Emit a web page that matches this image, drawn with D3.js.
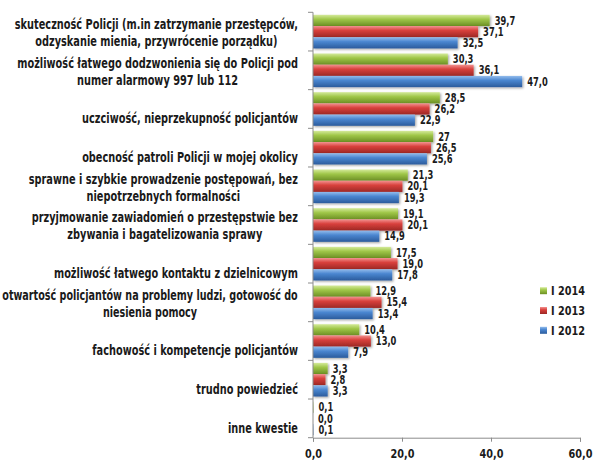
<!DOCTYPE html>
<html>
<head>
<meta charset="utf-8">
<script src="https://cdn.jsdelivr.net/npm/d3@7"></script>
<style>
  html, body { margin: 0; padding: 0; background: #fff; }
  svg { display: block; }
  text { font-family: "DejaVu Sans Condensed", "DejaVu Sans", sans-serif; font-stretch: condensed; fill: #1a1a1a; font-weight: bold; }
</style>
</head>
<body>
<svg id="chart" width="593" height="463"></svg>
<script>
// Categories, top to bottom; "|" marks a line break in the label
const categories = [
  "skuteczność Policji (m.in zatrzymanie przestępców,|odzyskanie mienia, przywrócenie porządku)",
  "możliwość łatwego dodzwonienia się do Policji pod|numer alarmowy 997 lub 112",
  "uczciwość, nieprzekupność policjantów",
  "obecność patroli Policji w mojej okolicy",
  "sprawne i szybkie prowadzenie postępowań, bez|niepotrzebnych formalności",
  "przyjmowanie zawiadomień o przestępstwie bez|zbywania i bagatelizowania sprawy",
  "możliwość łatwego kontaktu z dzielnicowym",
  "otwartość policjantów na problemy ludzi, gotowość do|niesienia pomocy",
  "fachowość i kompetencje policjantów",
  "trudno powiedzieć",
  "inne kwestie"
];

// Series values (%), written as they are labelled
const series2014 = ["39,7", "30,3", "28,5", "27",   "21,3", "19,1", "17,5", "12,9", "10,4", "3,3", "0,1"];
const series2013 = ["37,1", "36,1", "26,2", "26,5", "20,1", "20,1", "19,0", "15,4", "13,0", "2,8", "0,0"];
const series2012 = ["32,5", "47,0", "22,9", "25,6", "19,3", "14,9", "17,8", "13,4", "7,9",  "3,3", "0,1"];

const seriesNames = ["I 2014", "I 2013", "I 2012"];
const xTicks = [0, 20, 40, 60];
const xTickLabels = ["0,0", "20,0", "40,0", "60,0"];

const palette = {
  "I 2014": ["#d4ea9a", "#9fc648", "#6c8f24"],
  "I 2013": ["#f39290", "#d8403c", "#9c2825"],
  "I 2012": ["#93bcec", "#4a86d0", "#2b5b9c"]
};

const parse = s => +s.replace(",", ".");
const seriesData = [series2014, series2013, series2012];

const svg = d3.select("#chart");
const defs = svg.append("defs");

// Horizontal squeeze so the bold face sets as narrow as a condensed font
function squeezeFor(sample, size, targetWidth) {
  const t = svg.append("text").attr("font-size", size).text(sample);
  const w = t.node().getComputedTextLength();
  t.remove();
  return Math.min(1, targetWidth / w);
}
const catSize = 13.5;
const kCat = squeezeFor("uczciwość, nieprzekupność policjantów", catSize, 216);
const kVal = squeezeFor("47,0", 11.5, 20.6);
const kAxis = squeezeFor("20,0", 13, 24);
const kLeg = squeezeFor("I 2014", 12, 34);

seriesNames.forEach((name, i) => {
  const g = defs.append("linearGradient")
    .attr("id", "grad" + i).attr("x1", 0).attr("y1", 0).attr("x2", 0).attr("y2", 1);
  const c = palette[name];
  g.append("stop").attr("offset", "0%").attr("stop-color", c[0]);
  g.append("stop").attr("offset", "40%").attr("stop-color", c[1]);
  g.append("stop").attr("offset", "100%").attr("stop-color", c[2]);
});

const shadow = defs.append("filter").attr("id", "shadow")
  .attr("x", "-5%").attr("y", "-20%").attr("width", "120%").attr("height", "160%");
shadow.append("feDropShadow").attr("dx", 1.2).attr("dy", 1.2)
  .attr("stdDeviation", 0.8).attr("flood-color", "#000").attr("flood-opacity", 0.35);

const plot = { left: 313, right: 580, top: 12.3, bottom: 437.7 };

const x = d3.scaleLinear().domain([0, 60]).range([plot.left, plot.right]);
const y = d3.scaleBand().domain(categories).range([plot.top, plot.bottom]);
const ys = d3.scaleBand().domain(seriesNames).range([0, y.bandwidth()]).paddingOuter(0.225);

// Bars and value labels
const groups = svg.append("g").selectAll("g")
  .data(categories)
  .join("g")
  .attr("transform", d => `translate(0,${y(d)})`);

groups.each(function (cat, ci) {
  const g = d3.select(this);
  seriesNames.forEach((name, si) => {
    const label = seriesData[si][ci];
    const v = parse(label);
    g.append("rect")
      .attr("x", x(0))
      .attr("y", ys(name))
      .attr("width", Math.max(0, x(v) - x(0)))
      .attr("height", ys.bandwidth())
      .attr("fill", `url(#grad${si})`)
      .attr("filter", "url(#shadow)");
    g.append("text")
      .attr("transform", `translate(${x(v) + 5},${ys(name) + ys.bandwidth() / 2}) scale(${kVal},1)`)
      .attr("dy", "0.36em")
      .attr("font-size", 11.5)
      .text(label);
  });
});

// Y axis line with category separator ticks
const axisColor = "#8c8c8c";
svg.append("line")
  .attr("x1", x(0)).attr("x2", x(0))
  .attr("y1", plot.top).attr("y2", plot.bottom)
  .attr("stroke", axisColor);
const bounds = categories.map(c => y(c)).concat([plot.bottom]);
svg.append("g").selectAll("line").data(bounds).join("line")
  .attr("x1", x(0) - 5).attr("x2", x(0))
  .attr("y1", d => d).attr("y2", d => d)
  .attr("stroke", axisColor);

// X axis
const xAxis = d3.axisBottom(x)
  .tickValues(xTicks)
  .tickSize(4)
  .tickPadding(0)
  .tickFormat((d, i) => xTickLabels[i]);
const xg = svg.append("g").attr("transform", `translate(0,${plot.bottom})`).call(xAxis);
xg.select(".domain").attr("stroke", axisColor);
xg.selectAll(".tick line").attr("stroke", axisColor);
xg.selectAll(".tick text")
  .attr("font-family", null)
  .attr("font-size", 13)
  .attr("fill", "#1a1a1a")
  .attr("y", 0).attr("dy", null)
  .attr("transform", `translate(0,20.5) scale(${kAxis},1)`);

// Category labels: lines centred on each other, block right-aligned, sitting low in the band
const labelRight = 298;
const lineH = 17;
const labels = svg.append("g");
categories.forEach(cat => {
  const lines = cat.split("|");
  const t = labels.append("text")
    .attr("font-size", catSize)
    .attr("text-anchor", "middle");
  const baseLast = y(cat) + y.bandwidth() - 5;
  lines.forEach((ln, i) => {
    t.append("tspan")
      .attr("x", 0)
      .attr("y", baseLast - (lines.length - 1 - i) * lineH)
      .text(ln);
  });
  let maxW = 0;
  t.selectAll("tspan").each(function () { maxW = Math.max(maxW, this.getComputedTextLength()); });
  const k = Math.min(kCat, (labelRight - 2) / maxW);
  const cx = labelRight - k * maxW / 2;
  t.attr("transform", `translate(${cx},0) scale(${k},1)`);
});

// Legend
const legend = svg.append("g");
const legendY = [290.7, 310.5, 330.3];
seriesNames.forEach((name, i) => {
  legend.append("rect")
    .attr("x", 540).attr("y", legendY[i] - 3.5)
    .attr("width", 7).attr("height", 7)
    .attr("fill", `url(#grad${i})`);
  legend.append("text")
    .attr("transform", `translate(551,${legendY[i]}) scale(${kLeg},1)`)
    .attr("dy", "0.36em")
    .attr("font-size", 12)
    .text(name);
});
</script>
</body>
</html>
